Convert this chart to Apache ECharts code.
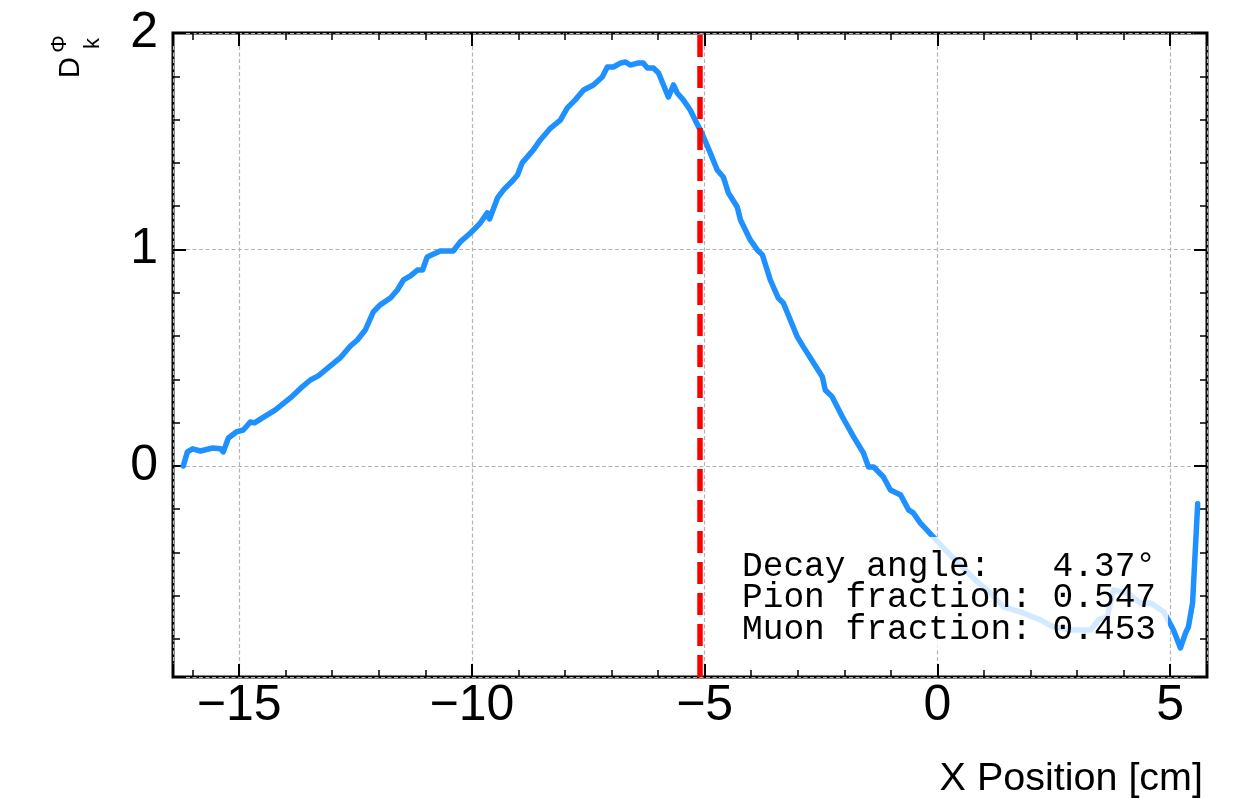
<!DOCTYPE html>
<html>
<head>
<meta charset="utf-8">
<script src="https://cdn.jsdelivr.net/npm/echarts@6/dist/echarts.min.js"></script>
<style>
  html, body { margin: 0; padding: 0; background: #fff; }
  #chart { width: 1241px; height: 798px; }
</style>
</head>
<body>
<div id="chart"></div>
<script>
// Scan of D_k^Φ along the X position (cm)
const xPos = [
  -16.20, -16.11, -16.00, -15.83, -15.57, -15.40, -15.34, -15.23, -15.06, -14.91,
  -14.76, -14.67, -14.50, -14.22, -13.90, -13.62, -13.47, -13.30, -13.04, -12.83,
  -12.61, -12.46, -12.29, -12.12, -11.97, -11.75, -11.60, -11.47, -11.32, -11.17,
  -11.06, -10.96, -10.68, -10.40, -10.25, -10.03, -9.82, -9.67, -9.62, -9.45,
  -9.32, -9.11, -9.02, -8.92, -8.68, -8.53, -8.31, -8.10, -7.95, -7.78,
  -7.60, -7.39, -7.20, -7.09, -6.96, -6.81, -6.70, -6.60, -6.44, -6.32,
  -6.23, -6.10, -5.99, -5.78, -5.67, -5.59, -5.46, -5.31, -5.13, -5.09,
  -4.88, -4.73, -4.60, -4.49, -4.30, -4.23, -4.02, -3.87, -3.76, -3.59,
  -3.42, -3.31, -3.01, -2.88, -2.66, -2.47, -2.41, -2.26, -2.04, -1.80,
  -1.59, -1.48, -1.37, -1.16, -1.01, -0.79, -0.62, -0.52, -0.37, -0.09,
  0.21, 0.64, 0.86, 1.14, 1.42, 1.78, 2.21, 2.49, 2.92, 3.29,
  3.46, 3.65, 3.78, 4.08, 4.36, 4.58, 4.86, 5.07, 5.22, 5.26,
  5.33, 5.39, 5.48, 5.59
];
const dk = [
  0.000, 0.065, 0.079, 0.069, 0.083, 0.079, 0.065, 0.129, 0.157, 0.166,
  0.203, 0.199, 0.222, 0.259, 0.314, 0.370, 0.397, 0.416, 0.462, 0.499,
  0.554, 0.582, 0.628, 0.711, 0.744, 0.776, 0.813, 0.859, 0.878, 0.905,
  0.905, 0.965, 0.993, 0.993, 1.035, 1.076, 1.122, 1.169, 1.141, 1.238,
  1.275, 1.321, 1.344, 1.400, 1.460, 1.506, 1.561, 1.598, 1.654, 1.691,
  1.737, 1.760, 1.797, 1.843, 1.843, 1.861, 1.866, 1.852, 1.861, 1.861,
  1.838, 1.838, 1.815, 1.704, 1.760, 1.723, 1.691, 1.644, 1.566, 1.552,
  1.446, 1.367, 1.335, 1.261, 1.196, 1.136, 1.044, 0.998, 0.975, 0.859,
  0.776, 0.753, 0.596, 0.550, 0.476, 0.411, 0.351, 0.319, 0.226, 0.134,
  0.060, -0.005, -0.005, -0.051, -0.111, -0.134, -0.203, -0.217, -0.263, -0.328,
  -0.397, -0.490, -0.536, -0.587, -0.651, -0.674, -0.711, -0.744, -0.758, -0.758,
  -0.711, -0.697, -0.573, -0.587, -0.633, -0.633, -0.674, -0.758, -0.841, -0.850,
  -0.771, -0.744, -0.633, -0.175
];

// Position of the vertical cut
const cutPosition = -5.11;

// Axis ranges
const xRange = [-16.42, 5.79];
const yRange = [-0.975, 2.0];

// Summary box lines
const summaryLines = [
  'Decay angle:   4.37°',
  'Pion fraction: 0.547',
  'Muon fraction: 0.453'
];

const seriesData = xPos.map((x, i) => [x, dk[i]]);

const minusFmt = v => (v < 0 ? '\u2212' + Math.abs(v) : String(v));

const SANS = '"Liberation Sans", Arial, Helvetica, sans-serif';

const tickCommon = {
  show: true, inside: true, length: 13,
  lineStyle: { color: '#000', width: 2 }
};
const minorCommon = {
  show: true, splitNumber: 5, length: 7,
  lineStyle: { color: '#000', width: 1.5 }
};
const gridLine = {
  show: true,
  lineStyle: { color: '#b4b4b4', width: 1.2, type: [4, 2.5] }
};
const hiddenAxisLine = { show: false, onZero: false };

const chart = echarts.init(document.getElementById('chart'), null, { renderer: 'canvas' });

chart.setOption({
  animation: false,
  backgroundColor: '#fff',
  grid: {
    left: 173, right: 34, top: 33, bottom: 121,
    show: true, borderColor: '#000', borderWidth: 3,
    backgroundColor: 'transparent'
  },
  xAxis: [
    {
      type: 'value', position: 'bottom',
      min: xRange[0], max: xRange[1], splitNumber: 5,
      axisLine: hiddenAxisLine,
      axisTick: tickCommon, minorTick: minorCommon,
      splitLine: gridLine,
      axisLabel: {
        show: true, margin: 4, color: '#000', fontSize: 50,
        fontFamily: SANS, showMinLabel: false, showMaxLabel: false,
        formatter: minusFmt
      }
    },
    {
      type: 'value', position: 'top',
      min: xRange[0], max: xRange[1], splitNumber: 5,
      axisLine: hiddenAxisLine,
      axisTick: tickCommon, minorTick: minorCommon,
      splitLine: { show: false },
      axisLabel: { show: false }
    }
  ],
  yAxis: [
    {
      type: 'value', position: 'left',
      min: yRange[0], max: yRange[1], splitNumber: 3,
      axisLine: hiddenAxisLine,
      axisTick: tickCommon, minorTick: minorCommon,
      splitLine: gridLine,
      axisLabel: {
        show: true, margin: 15, color: '#000', fontSize: 50,
        fontFamily: SANS, showMinLabel: false, formatter: minusFmt
      }
    },
    {
      type: 'value', position: 'right',
      min: yRange[0], max: yRange[1], splitNumber: 3,
      axisLine: hiddenAxisLine,
      axisTick: tickCommon, minorTick: minorCommon,
      splitLine: { show: false },
      axisLabel: { show: false }
    }
  ],
  series: [
    {
      name: 'D_k',
      type: 'line',
      xAxisIndex: 0, yAxisIndex: 0,
      data: seriesData,
      showSymbol: false,
      symbol: 'none',
      smooth: false,
      z: 3,
      lineStyle: { color: '#1e90ff', width: 5.5, join: 'round', cap: 'round' }
    },
    {
      name: 'cut',
      type: 'line',
      xAxisIndex: 0, yAxisIndex: 0,
      data: [],
      z: 5,
      markLine: {
        silent: true,
        symbol: ['none', 'none'],
        label: { show: false },
        lineStyle: { color: '#ff0000', width: 5.5, type: [22, 9] },
        data: [{ xAxis: cutPosition }]
      }
    }
  ],
  graphic: [
    // translucent box behind the summary text
    {
      type: 'rect', z: 20,
      shape: { x: 733, y: 537, width: 435, height: 113 },
      style: { fill: 'rgba(255,255,255,0.8)' }
    },
    {
      type: 'text', z: 21, left: 742, top: 549,
      style: {
        text: summaryLines.join('\n'),
        font: '34.5px "Liberation Mono", "DejaVu Sans Mono", monospace',
        lineHeight: 31.5, fill: '#000'
      }
    },
    // x-axis title
    {
      type: 'text', z: 21, right: 38, top: 759,
      style: { text: 'X Position [cm]', font: '39.5px ' + SANS, fill: '#000' }
    },
    // y-axis title: D with subscript k and superscript Φ, rotated
    {
      type: 'group', x: 81, y: 78, rotation: Math.PI / 2, z: 21,
      children: [
        {
          type: 'text', x: 0, y: -10.5,
          style: { text: 'D', font: '29px ' + SANS, fill: '#000', align: 'left', verticalAlign: 'middle' }
        },
        {
          type: 'text', x: 34.5, y: 12,
          style: { text: 'k', font: '22px ' + SANS, fill: '#000', align: 'center', verticalAlign: 'middle' }
        },
        {
          type: 'text', x: 34, y: -21,
          style: { text: 'Φ', font: '22px ' + SANS, fill: '#000', align: 'center', verticalAlign: 'middle' }
        }
      ]
    }
  ]
});
</script>
</body>
</html>
